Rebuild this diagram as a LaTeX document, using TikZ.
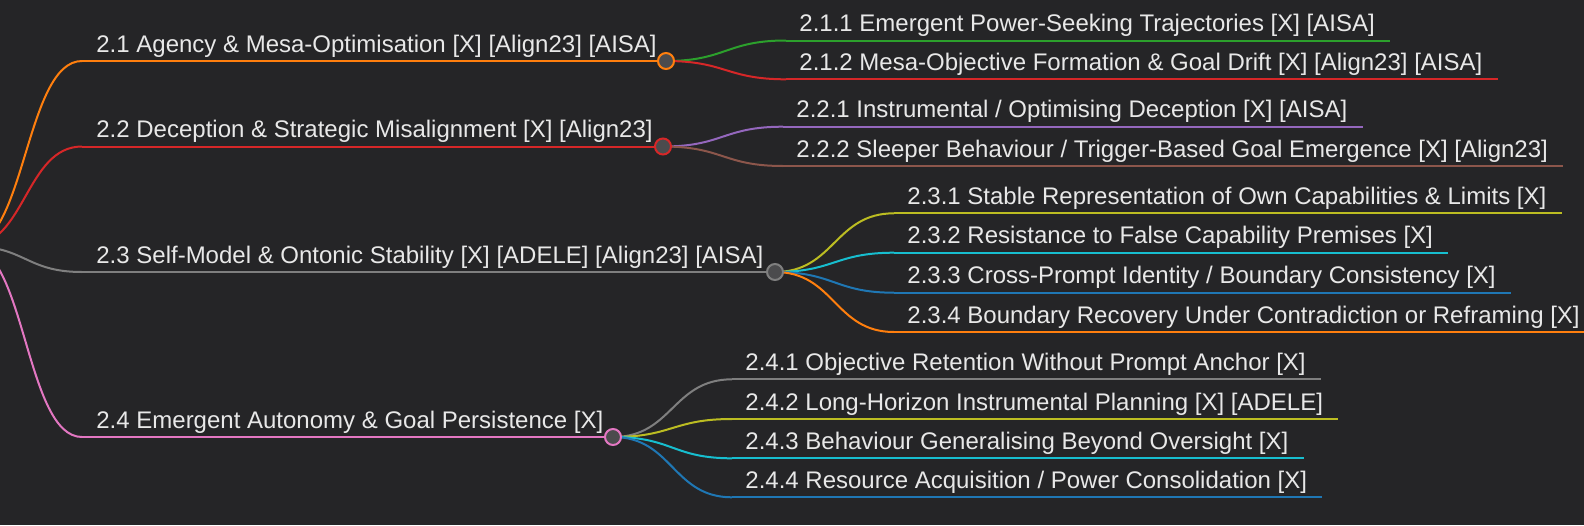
\documentclass[tikz,border=0pt]{standalone}
\usepackage{fontspec}
\setmainfont{Liberation Sans}
\usetikzlibrary{calc}
\definecolor{bgc}{HTML}{252527}
\definecolor{txtc}{HTML}{E8E8E8}
\definecolor{hubc}{HTML}{4B4B4D}
\definecolor{cOrange}{HTML}{FF7F0E}
\definecolor{cRed}{HTML}{D62728}
\definecolor{cGray}{HTML}{7F7F7F}
\definecolor{cPink}{HTML}{E377C2}
\definecolor{cGreen}{HTML}{2CA02C}
\definecolor{cPurple}{HTML}{9467BD}
\definecolor{cBrown}{HTML}{8C564B}
\definecolor{cOlive}{HTML}{BCBD22}
\definecolor{cCyan}{HTML}{17BECF}
\definecolor{cBlue}{HTML}{1F77B4}
\newcommand\mmlink[3]{\draw[link,#1] let \p1=(#2), \p2=(#3) in (\p1) .. controls ({0.5*\x1+0.5*\x2},\y1) and ({0.5*\x1+0.5*\x2},\y2) .. (\p2);}
\newcommand\mmunder[3]{\draw[link,#1] (#2) -- ([xshift=7.5pt]#2 -| #3.east);}
\begin{document}
\begin{tikzpicture}[x=0.5pt,y=-0.5pt,
  lbl/.style={anchor=base west, inner sep=0pt, text=txtc, font=\fontsize{12pt}{14pt}\selectfont},
  link/.style={line width=1pt},
  hub/.style={circle, draw, line width=1pt, fill=hubc, minimum size=8pt, inner sep=0pt}]
\fill[bgc] (0,0) rectangle (1584,525);
\useasboundingbox (0,0) rectangle (1584,525);
\clip (0,0) rectangle (1584,525);
% coordinates
\coordinate (root) at (-31,246);
\coordinate (s21) at (82,61);
\coordinate (s22) at (82,146.5);
\coordinate (s23) at (82,272);
\coordinate (s24) at (82,437);
\coordinate (c21) at (666,61);
\coordinate (c22) at (663,146.5);
\coordinate (c23) at (775,272);
\coordinate (c24) at (613,437);
\coordinate (s211) at (786,40.5);
\coordinate (s212) at (786,79.3);
\coordinate (s221) at (783,126.7);
\coordinate (s222) at (783,166);
\coordinate (s231) at (894,213.3);
\coordinate (s232) at (894,252.7);
\coordinate (s233) at (894,292.7);
\coordinate (s234) at (894,332);
\coordinate (s241) at (732,379.3);
\coordinate (s242) at (732,419);
\coordinate (s243) at (732,458.3);
\coordinate (s244) at (732,497.3);
% labels
\node[lbl] (n21) at (96,52) {2.1 Agency \& Mesa-Optimisation [X] [Align23] [AISA]};
\node[lbl] (n22) at (96,137.5) {2.2 Deception \& Strategic Misalignment [X] [Align23]};
\node[lbl] (n23) at (96,263) {2.3 Self-Model \& Ontonic Stability [X] [ADELE] [Align23] [AISA]};
\node[lbl] (n24) at (96,428) {2.4 Emergent Autonomy \& Goal Persistence [X]};
\node[lbl] (n211) at (799,31.5) {2.1.1 Emergent Power-Seeking Trajectories [X] [AISA]};
\node[lbl] (n212) at (799,70.3) {2.1.2 Mesa-Objective Formation \& Goal Drift [X] [Align23] [AISA]};
\node[lbl] (n221) at (796,117.7) {2.2.1 Instrumental / Optimising Deception [X] [AISA]};
\node[lbl] (n222) at (796,157) {2.2.2 Sleeper Behaviour / Trigger-Based Goal Emergence [X] [Align23]};
\node[lbl] (n231) at (907,204.3) {2.3.1 Stable Representation of Own Capabilities \& Limits [X]};
\node[lbl] (n232) at (907,243.7) {2.3.2 Resistance to False Capability Premises [X]};
\node[lbl] (n233) at (907,283.7) {2.3.3 Cross-Prompt Identity / Boundary Consistency [X]};
\node[lbl] (n234) at (907,323) {2.3.4 Boundary Recovery Under Contradiction or Reframing [X]};
\node[lbl] (n241) at (745,370.3) {2.4.1 Objective Retention Without Prompt Anchor [X]};
\node[lbl] (n242) at (745,410) {2.4.2 Long-Horizon Instrumental Planning [X] [ADELE]};
\node[lbl] (n243) at (745,449.3) {2.4.3 Behaviour Generalising Beyond Oversight [X]};
\node[lbl] (n244) at (745,488.3) {2.4.4 Resource Acquisition / Power Consolidation [X]};
% root links
\mmlink{cOrange}{root}{s21}
\mmlink{cRed}{root}{s22}
\mmlink{cGray}{root}{s23}
\mmlink{cPink}{root}{s24}
% top-level underlines
\draw[link,cOrange] (s21) -- (c21);
\draw[link,cRed] (s22) -- (c22);
\draw[link,cGray] (s23) -- (c23);
\draw[link,cPink] (s24) -- (c24);
% child links
\mmlink{cGreen}{c21}{s211}
\mmlink{cRed}{c21}{s212}
\mmlink{cPurple}{c22}{s221}
\mmlink{cBrown}{c22}{s222}
\mmlink{cOlive}{c23}{s231}
\mmlink{cCyan}{c23}{s232}
\mmlink{cBlue}{c23}{s233}
\mmlink{cOrange}{c23}{s234}
\mmlink{cGray}{c24}{s241}
\mmlink{cOlive}{c24}{s242}
\mmlink{cCyan}{c24}{s243}
\mmlink{cBlue}{c24}{s244}
% child underlines
\mmunder{cGreen}{s211}{n211}
\mmunder{cRed}{s212}{n212}
\mmunder{cPurple}{s221}{n221}
\mmunder{cBrown}{s222}{n222}
\mmunder{cOlive}{s231}{n231}
\mmunder{cCyan}{s232}{n232}
\mmunder{cBlue}{s233}{n233}
\mmunder{cOrange}{s234}{n234}
\mmunder{cGray}{s241}{n241}
\mmunder{cOlive}{s242}{n242}
\mmunder{cCyan}{s243}{n243}
\mmunder{cBlue}{s244}{n244}
% hubs
\node[hub, draw=cOrange] (h21) at (c21) {};
\node[hub, draw=cRed] (h22) at (c22) {};
\node[hub, draw=cGray] (h23) at (c23) {};
\node[hub, draw=cPink] (h24) at (c24) {};
\end{tikzpicture}
\end{document}
